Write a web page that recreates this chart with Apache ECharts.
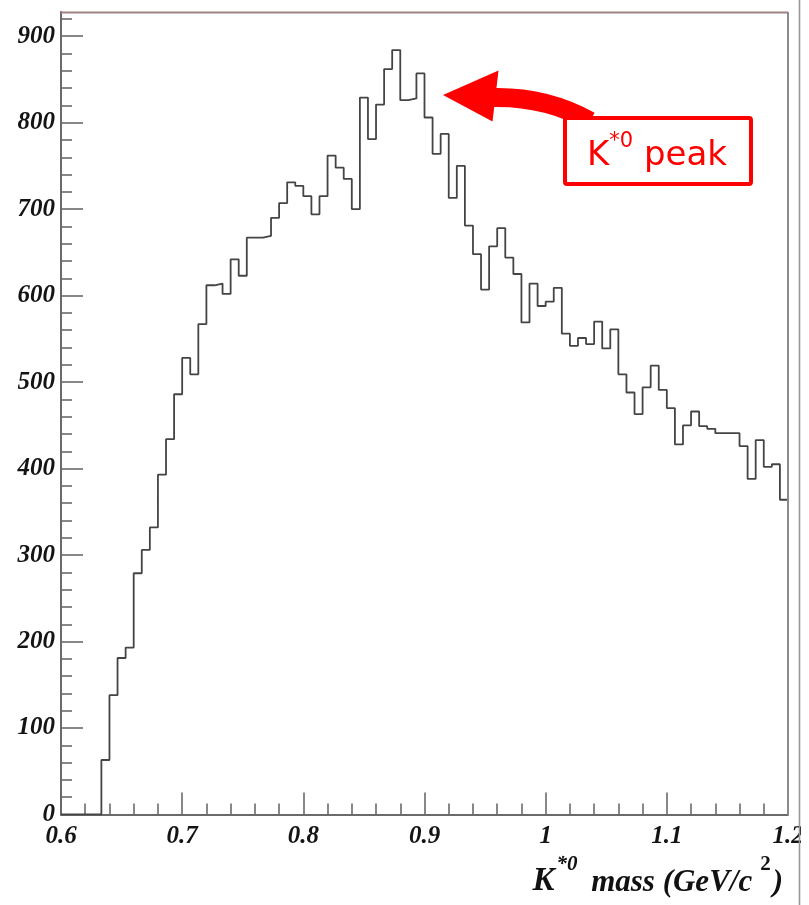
<!DOCTYPE html>
<html>
<head>
<meta charset="utf-8">
<script src="https://cdn.jsdelivr.net/npm/echarts@6/dist/echarts.min.js"></script>
<style>
html,body{margin:0;padding:0;background:#fff;}
#c{width:809px;height:905px;}
</style>
</head>
<body>
<div id="c"></div>
<script>
// Histogram binning: 90 bins from 0.6 to 1.2 GeV/c^2
const binStart = 0.6;
const binEnd = 1.2;
const nBins = 90;
// Entries per bin
const counts = [
  0, 0, 0, 0, 0, 63, 138, 181, 193, 279,
  306, 332, 393, 434, 486, 528, 509, 567, 612, 614,
  602, 642, 623, 667, 667, 669, 690, 707, 731, 727,
  715, 694, 715, 762, 748, 735, 700, 829, 781, 821,
  862, 884, 826, 828, 857, 806, 764, 787, 713, 750,
  681, 648, 607, 657, 678, 644, 625, 569, 614, 588,
  593, 609, 556, 542, 551, 544, 570, 539, 561, 509,
  488, 463, 494, 519, 491, 470, 428, 450, 466, 449,
  446, 441, 441, 441, 426, 388, 433, 402, 405, 364
];
const xTickLabels = ['0.6', '0.7', '0.8', '0.9', '1', '1.1', '1.2'];
const yTickValues = [0, 100, 200, 300, 400, 500, 600, 700, 800, 900];
const yMax = 928;
const yMinorStep = 20;

const binWidth = (binEnd - binStart) / nBins;
const stepData = counts.map((c, i) => [binStart + i * binWidth, c]);
stepData.push([binEnd, counts[counts.length - 1]]);

const yMinorTicks = [];
for (let v = yMinorStep; v <= yMax; v += yMinorStep) {
  if (v % 100 !== 0) yMinorTicks.push(v);
}

const axisColor = '#6a6a6a';
const labelFont = {
  fontFamily: 'Liberation Serif',
  fontStyle: 'italic',
  fontWeight: 'bold',
  fontSize: 25,
  color: '#141414'
};

const chart = echarts.init(document.getElementById('c'), null, {renderer: 'canvas'});
chart.setOption({
  animation: false,
  backgroundColor: '#ffffff',
  grid: {left: 61, right: 21, top: 12, bottom: 90.5, outerBoundsMode: 'none', containLabel: false},
  xAxis: {
    type: 'value', min: binStart, max: binEnd, interval: 0.1,
    axisLine: {lineStyle: {color: axisColor, width: 2}},
    axisTick: {inside: true, length: 22, lineStyle: {color: axisColor, width: 1.6}},
    minorTick: {show: true, splitNumber: 5, length: 11, lineStyle: {color: axisColor, width: 1.6}},
    splitLine: {show: false},
    minorSplitLine: {show: false},
    axisLabel: Object.assign({
      margin: 10,
      showMinLabel: true, showMaxLabel: true,
      formatter: function (v) { return xTickLabels[Math.round((v - binStart) / 0.1)]; }
    }, labelFont)
  },
  yAxis: [{
    type: 'value', min: 0, max: yMax,
    axisLine: {show: true, lineStyle: {color: axisColor, width: 2}},
    axisTick: {show: true, inside: true, length: 22, customValues: yTickValues, lineStyle: {color: axisColor, width: 1.6}},
    splitLine: {show: false},
    axisLabel: Object.assign({margin: 6, customValues: yTickValues}, labelFont)
  }, {
    type: 'value', min: 0, max: yMax, position: 'left', offset: 0,
    axisLine: {show: false},
    axisTick: {show: true, inside: true, length: 11, customValues: yMinorTicks, lineStyle: {color: axisColor, width: 1.6}},
    splitLine: {show: false},
    axisLabel: {show: false}
  }],
  series: [{
    type: 'line',
    step: 'end',
    data: stepData,
    symbol: 'none',
    yAxisIndex: 0,
    lineStyle: {color: '#444444', width: 1.8},
    silent: true
  }],
  graphic: [
    // top frame line
    {type: 'line', shape: {x1: 61, y1: 12.5, x2: 788, y2: 12.5}, style: {stroke: '#a08282', lineWidth: 2}, z: 50},
    // right frame line
    {type: 'line', shape: {x1: 788, y1: 12, x2: 788, y2: 815}, style: {stroke: '#8a8a8a', lineWidth: 2}, z: 50},
    // outer right border
    {type: 'rect', shape: {x: 801, y: 0, width: 8, height: 905}, style: {fill: '#ffffff'}, z: 60},
    {type: 'line', shape: {x1: 799.5, y1: 0, x2: 799.5, y2: 905}, style: {stroke: '#999999', lineWidth: 1.6}, z: 61},
    // axis title
    {
      type: 'text', x: 783, y: 898, z: 50,
      style: {
        text: '{k|K}{s|*0}{t| mass (GeV/c}{s2|2}{t|)}',
        align: 'right', verticalAlign: 'bottom',
        rich: {
          k: {fontFamily: 'Liberation Serif', fontStyle: 'italic', fontWeight: 'bold', fontSize: 33, lineHeight: 44, verticalAlign: 'bottom', fill: '#111'},
          t: {fontFamily: 'Liberation Serif', fontStyle: 'italic', fontWeight: 'bold', fontSize: 31, lineHeight: 44, verticalAlign: 'bottom', fill: '#111'},
          s: {fontFamily: 'Liberation Serif', fontStyle: 'italic', fontWeight: 'bold', fontSize: 21, lineHeight: 22, verticalAlign: 'top', fill: '#111', padding: [0, 6, 0, 2]},
          s2: {fontFamily: 'Liberation Serif', fontStyle: 'normal', fontWeight: 'bold', fontSize: 21, lineHeight: 22, verticalAlign: 'top', fill: '#111', padding: [0, 2, 0, 8]}
        }
      }
    },
    // annotation arrow shaft
    {type: 'bezierCurve', shape: {x1: 492, y1: 97.5, cpx1: 545, cpy1: 96, x2: 590, y2: 121}, style: {stroke: '#ff0000', lineWidth: 19, fill: null, lineCap: 'butt'}, z: 70},
    // arrow head
    {type: 'polygon', shape: {points: [[443, 95], [498.5, 70.5], [492.5, 121.5]]}, style: {fill: '#ff0000'}, z: 71},
    // annotation box
    {type: 'rect', shape: {x: 565, y: 118, width: 186, height: 66, r: 2}, style: {fill: '#ffffff', stroke: '#ff0000', lineWidth: 4}, z: 72},
    {
      type: 'text', x: 657, y: 152, z: 73,
      style: {
        text: '{k|K}{s|*0}{t| peak}',
        align: 'center', verticalAlign: 'middle',
        rich: {
          k: {fontFamily: 'DejaVu Sans', fontSize: 34, lineHeight: 42, verticalAlign: 'bottom', fill: '#ff0000'},
          t: {fontFamily: 'DejaVu Sans', fontSize: 34, lineHeight: 42, verticalAlign: 'bottom', fill: '#ff0000'},
          s: {fontFamily: 'DejaVu Sans', fontSize: 21, lineHeight: 26, verticalAlign: 'top', fill: '#ff0000'}
        }
      }
    }
  ]
});
</script>
</body>
</html>
